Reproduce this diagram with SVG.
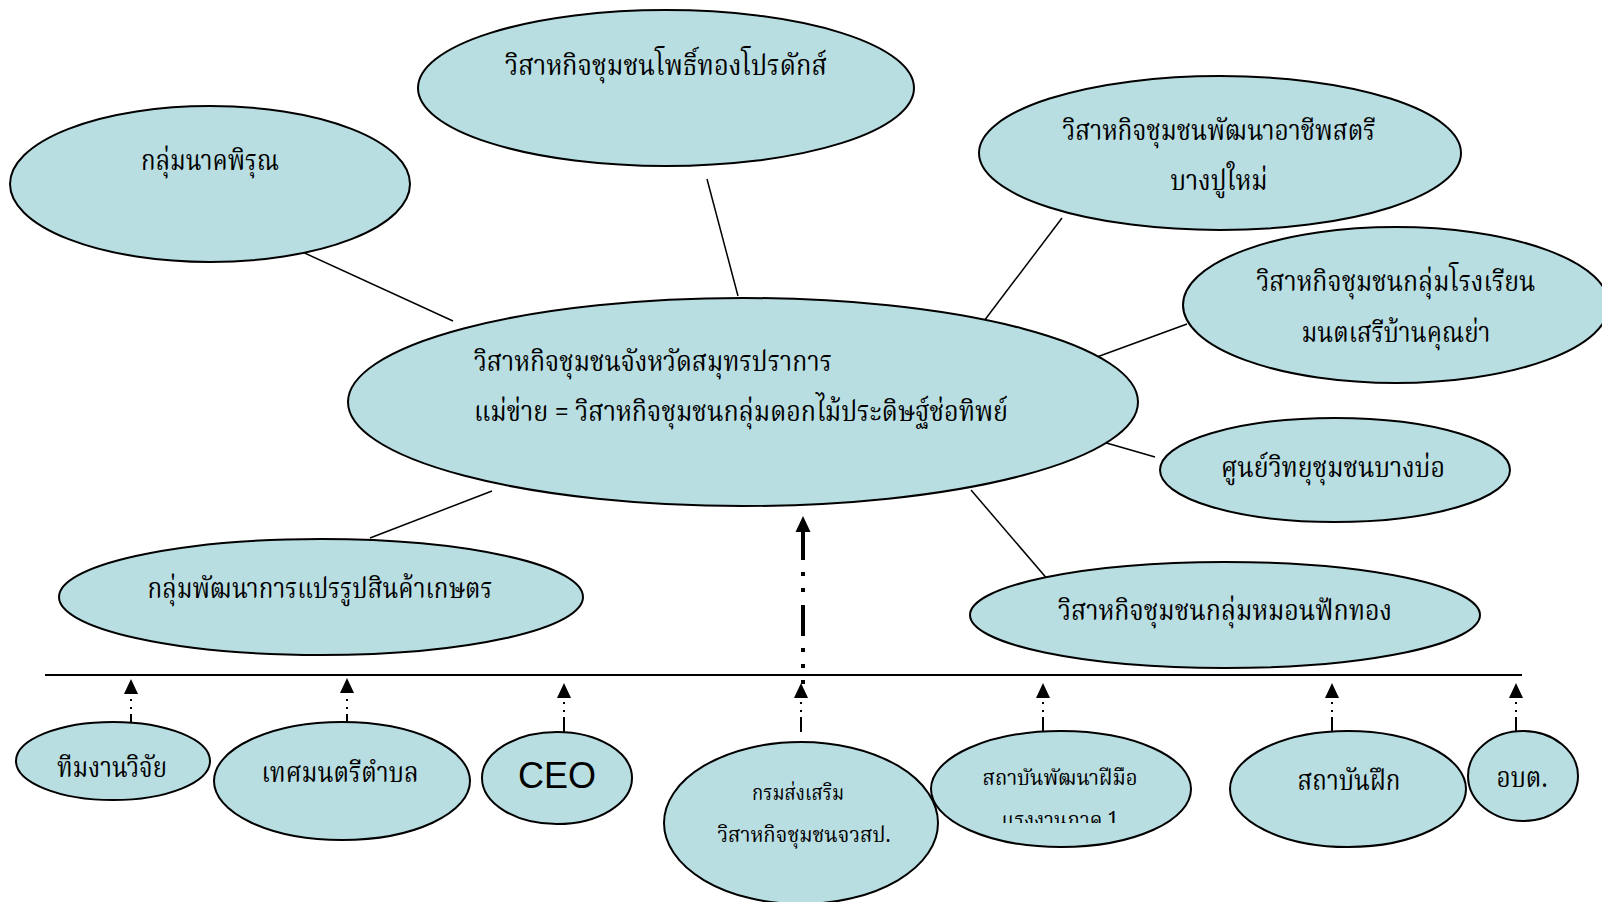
<svg xmlns="http://www.w3.org/2000/svg" width="1602" height="902" viewBox="0 0 1602 902">
<defs>
<style>
.node ellipse{fill:#B8DEE2;stroke:#000;stroke-width:2}
.t{font-family:"Angsana New","Norasi","Noto Serif Thai","Noto Sans Thai","Loma","Garuda","Liberation Serif",serif;font-size:28px;fill:#000}
.c{text-anchor:middle}
.s{font-size:22px}
.conn line{stroke:#000;stroke-width:1.5}
.solid{stroke:#000;stroke-width:2;fill:none}
.dots{stroke:#000;stroke-width:2;fill:none;stroke-dasharray:0 5 2 6 2 20}
.ah{fill:#000}
</style>
<clipPath id="clipSkill"><rect x="900" y="790" width="300" height="33"/></clipPath>
</defs>
<rect width="1602" height="902" fill="#fff"/>

<g id="connectors">
<g class="conn">
<line x1="298" y1="250" x2="453" y2="321"/>
<line x1="707" y1="179" x2="738" y2="296"/>
<line x1="1062" y1="218" x2="984" y2="321"/>
<line x1="1187" y1="324" x2="1086" y2="361"/>
<line x1="1155" y1="457" x2="1103" y2="442"/>
<line x1="971" y1="490" x2="1049" y2="581"/>
<line x1="492" y1="491" x2="370" y2="538"/>
</g>
<line x1="45" y1="675" x2="1522" y2="675" stroke="#000" stroke-width="2"/>
<path d="M803 684V680M803 668V664M803 652V648M803 636V605M803 592V588M803 576V572M803 560V530" stroke="#000" stroke-width="4" fill="none"/>
<polygon class="ah" points="803,516 795.5,532 810.5,532"/>
<g>
<polygon class="ah" points="131,679 124,694 138,694"/>
<path class="dots" d="M131 714V694"/>
<path class="solid" d="M131 722V714"/>
</g>
<g>
<polygon class="ah" points="347,678 340,693 354,693"/>
<path class="dots" d="M347 714V693"/>
<path class="solid" d="M347 722V714"/>
</g>
<g>
<polygon class="ah" points="564,683 557,698 571,698"/>
<path class="dots" d="M564 717V698"/>
<path class="solid" d="M564 732V717"/>
</g>
<g>
<polygon class="ah" points="801,683 794,698 808,698"/>
<path class="dots" d="M801 717V698"/>
<path class="solid" d="M801 732V717"/>
</g>
<g>
<polygon class="ah" points="1043,683 1036,698 1050,698"/>
<path class="dots" d="M1043 717V698"/>
<path class="solid" d="M1043 731V717"/>
</g>
<g>
<polygon class="ah" points="1332,683 1325,698 1339,698"/>
<path class="dots" d="M1332 717V698"/>
<path class="solid" d="M1332 731V717"/>
</g>
<g>
<polygon class="ah" points="1516,683 1509,698 1523,698"/>
<path class="dots" d="M1516 717V698"/>
<path class="solid" d="M1516 731V717"/>
</g>
</g>

<g id="n_nakpirun" class="node">
<ellipse cx="210" cy="184" rx="200" ry="78"/>
<text class="t c" x="210" y="170" textLength="138" lengthAdjust="spacingAndGlyphs">กลุ่มนาคพิรุณ</text>
</g>
<g id="n_phothong" class="node">
<ellipse cx="666" cy="88" rx="248" ry="78"/>
<text class="t c" x="666" y="75" textLength="322" lengthAdjust="spacingAndGlyphs">วิสาหกิจชุมชนโพธิ์ทองโปรดักส์</text>
</g>
<g id="n_phatthana" class="node">
<ellipse cx="1220" cy="153" rx="241" ry="77"/>
<text class="t c" x="1219" y="140" textLength="313" lengthAdjust="spacingAndGlyphs">วิสาหกิจชุมชนพัฒนาอาชีพสตรี</text>
<text class="t c" x="1219" y="190" textLength="97" lengthAdjust="spacingAndGlyphs">บางปูใหม่</text>
</g>
<g id="n_rongrian" class="node">
<ellipse cx="1396" cy="305" rx="213" ry="78"/>
<text class="t c" x="1396" y="291" textLength="279" lengthAdjust="spacingAndGlyphs">วิสาหกิจชุมชนกลุ่มโรงเรียน</text>
<text class="t c" x="1396" y="342" textLength="189" lengthAdjust="spacingAndGlyphs">มนตเสรีบ้านคุณย่า</text>
</g>
<g id="n_center" class="node">
<ellipse cx="743" cy="402" rx="395" ry="104"/>
<text class="t" x="474" y="371" textLength="358" lengthAdjust="spacingAndGlyphs">วิสาหกิจชุมชนจังหวัดสมุทรปราการ</text>
<text class="t" x="474" y="421" textLength="534" lengthAdjust="spacingAndGlyphs">แม่ข่าย = วิสาหกิจชุมชนกลุ่มดอกไม้ประดิษฐ์ช่อทิพย์</text>
</g>
<g id="n_radio" class="node">
<ellipse cx="1335" cy="470" rx="175" ry="52"/>
<text class="t c" x="1333" y="477" textLength="224" lengthAdjust="spacingAndGlyphs">ศูนย์วิทยุชุมชนบางบ่อ</text>
</g>
<g id="n_pillow" class="node">
<ellipse cx="1225" cy="615" rx="255" ry="53"/>
<text class="t c" x="1225" y="620" textLength="334" lengthAdjust="spacingAndGlyphs">วิสาหกิจชุมชนกลุ่มหมอนฟักทอง</text>
</g>
<g id="n_processing" class="node">
<ellipse cx="321" cy="597" rx="262" ry="58"/>
<text class="t c" x="320" y="598" textLength="345" lengthAdjust="spacingAndGlyphs">กลุ่มพัฒนาการแปรรูปสินค้าเกษตร</text>
</g>

<g id="n_research" class="node">
<ellipse cx="113" cy="761" rx="97" ry="39"/>
<text class="t c" x="112" y="777" textLength="110" lengthAdjust="spacingAndGlyphs">ทีมงานวิจัย</text>
</g>
<g id="n_municipal" class="node">
<ellipse cx="342" cy="781" rx="128" ry="59"/>
<text class="t c" x="340" y="782" textLength="157" lengthAdjust="spacingAndGlyphs">เทศมนตรีตำบล</text>
</g>
<g id="n_ceo" class="node">
<ellipse cx="557" cy="778" rx="75" ry="46"/>
<text x="557" y="788" text-anchor="middle" font-family="Liberation Sans, Arial, sans-serif" font-size="36" fill="#000">CEO</text>
</g>
<g id="n_dept" class="node">
<ellipse cx="801" cy="823" rx="137" ry="81"/>
<text class="t c s" x="798" y="800" textLength="92" lengthAdjust="spacingAndGlyphs">กรมส่งเสริม</text>
<text class="t c s" x="804" y="842" textLength="173" lengthAdjust="spacingAndGlyphs">วิสาหกิจชุมชนจวสป.</text>
</g>
<g id="n_skill" class="node">
<ellipse cx="1061" cy="789" rx="130" ry="58"/>
<text class="t c s" x="1060" y="785" textLength="155" lengthAdjust="spacingAndGlyphs">สถาบันพัฒนาฝีมือ</text>
<text class="t c s" x="1060" y="827" textLength="117" lengthAdjust="spacingAndGlyphs" clip-path="url(#clipSkill)">แรงงานภาค 1</text>
</g>
<g id="n_training" class="node">
<ellipse cx="1348" cy="789" rx="118" ry="58"/>
<text class="t c" x="1349" y="790" textLength="103" lengthAdjust="spacingAndGlyphs">สถาบันฝึก</text>
</g>
<g id="n_obt" class="node">
<ellipse cx="1523" cy="776" rx="55" ry="45"/>
<text class="t c" x="1522" y="787" textLength="51" lengthAdjust="spacingAndGlyphs">อบต.</text>
</g>
</svg>
